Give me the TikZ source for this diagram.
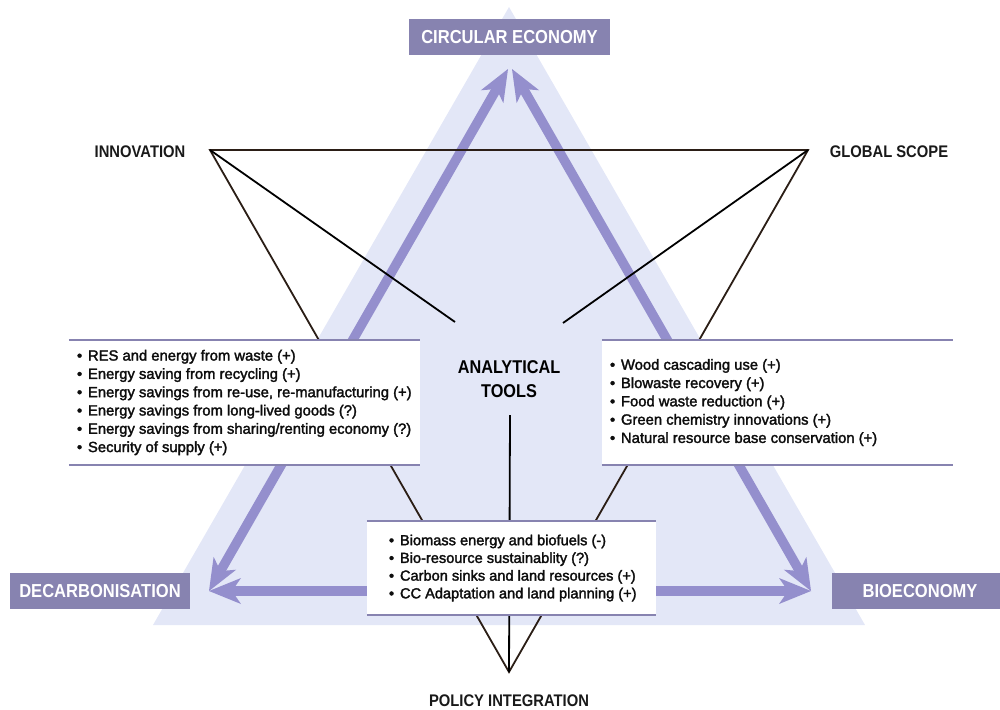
\documentclass[tikz,border=0pt]{standalone}
\usepackage{fontspec}
\setmainfont{Liberation Sans}
\newfontfamily\labelfont[FakeStretch=0.88]{Liberation Sans}
\newfontfamily\bodyfont[FakeBold=2]{Liberation Sans}
\usetikzlibrary{arrows.meta}
\definecolor{bgtri}{HTML}{E3E7F7}
\definecolor{arr}{HTML}{948FCD}
\definecolor{boxc}{HTML}{8783B0}
\definecolor{linec}{HTML}{2B1E16}
\newcommand{\bulletmark}{\makebox[11pt][l]{\textbullet}}
\begin{document}
\begin{tikzpicture}[x=1pt,y=-1pt,
 pillar/.style={fill=boxc, text=white, font=\labelfont\bfseries\fontsize{18.8}{20}\selectfont, inner sep=0pt, minimum height=36pt},
 lab/.style={font=\labelfont\bfseries\fontsize{16.8}{18}\selectfont, text=black!90, inner sep=0pt},
 bigarrow/.style={draw=arr, line width=9.5pt, {Stealth[length=32pt,width=26pt,inset=9pt,line width=0pt]}-{Stealth[length=32pt,width=26pt,inset=9pt,line width=0pt]}},
 edgeline/.style={draw=linec, line width=1.8pt},
 spoke/.style={draw=black, line width=1.8pt},
 panel/.style={fill=white, inner sep=0pt},
 rulebar/.style={draw=boxc, line width=2.2pt},
 bullets/.style={font=\bodyfont\fontsize{14.8}{18.3}\selectfont, align=left, inner sep=0pt, text=black!95}
]
\useasboundingbox (0,0) rectangle (1000,709);
% background triangle
\fill[bgtri] (509,7) -- (865,625) -- (153,625) -- cycle;
% big arrows
\coordinate (tl) at (508,69);
\coordinate (tr) at (512,69);
\coordinate (bl) at (209,591);
\coordinate (br) at (811,591);
\draw[bigarrow] (bl) -- (tl);
\draw[bigarrow] (tr) -- (br);
\draw[bigarrow] (bl) -- (br);
% pillar labels
\node[pillar, minimum width=201pt] (ce) at (509.5,37.5) {CIRCULAR ECONOMY};
\node[pillar, minimum width=180pt] (dec) at (100,591) {DECARBONISATION};
\node[pillar, minimum width=168pt] (bio) at (916,591) {\hspace*{8pt}BIOECONOMY};
% inverted triangle
\coordinate (vI) at (210,150);
\coordinate (vG) at (808,150);
\coordinate (vP) at (509,672);
\draw[edgeline, line join=miter] (vI) -- (vG) -- (vP) -- cycle;
% analytical tools
\node[font=\labelfont\bfseries\fontsize{18.5}{24}\selectfont, align=center, inner sep=0pt] (tools) at (509,379) {ANALYTICAL\\TOOLS};
\coordinate (sI) at (455,322);
\coordinate (sG) at (563,323);
\coordinate (sP) at (510,415);
\draw[spoke] (vI) -- (sI);
\draw[spoke] (vG) -- (sG);
\draw[spoke] (vP) -- (sP);
% labels
\node[lab] (inn) at (140,152) {INNOVATION};
\node[lab] (glob) at (889,152) {GLOBAL SCOPE};
\node[lab] (pol) at (509,701) {POLICY INTEGRATION};
% panels
\node[panel, minimum width=351pt, minimum height=125pt] (lbox) at (244.5,402.5) {};
\node[panel, minimum width=351pt, minimum height=125pt] (rbox) at (777.5,402.5) {};
\node[panel, minimum width=289pt, minimum height=94pt] (cbox) at (511.5,568) {};
\draw[rulebar] (lbox.north west) -- (lbox.north east);
\draw[rulebar] (lbox.south west) -- (lbox.south east);
\draw[rulebar] (rbox.north west) -- (rbox.north east);
\draw[rulebar] (rbox.south west) -- (rbox.south east);
\draw[rulebar] (cbox.north west) -- (cbox.north east);
\draw[rulebar] (cbox.south west) -- (cbox.south east);
\node[bullets, anchor=west] (ltext) at ([xshift=8pt]lbox.west) {%
\bulletmark RES and energy from waste (+)\\
\bulletmark Energy saving from recycling (+)\\
\bulletmark Energy savings from re-use, re-manufacturing (+)\\
\bulletmark Energy savings from long-lived goods (?)\\
\bulletmark Energy savings from sharing/renting economy (?)\\
\bulletmark Security of supply (+)};
\node[bullets, anchor=west] (rtext) at ([xshift=8pt]rbox.west) {%
\bulletmark Wood cascading use (+)\\
\bulletmark Blowaste recovery (+)\\
\bulletmark Food waste reduction (+)\\
\bulletmark Green chemistry innovations (+)\\
\bulletmark Natural resource base conservation (+)};
\node[bullets, anchor=west, font=\bodyfont\fontsize{14.6}{17.7}\selectfont] (ctext) at ([xshift=22pt]cbox.west) {%
\bulletmark Biomass energy and biofuels (-)\\
\bulletmark Bio-resource sustainablity (?)\\
\bulletmark Carbon sinks and land resources (+)\\
\bulletmark CC Adaptation and land planning (+)};
\end{tikzpicture}
\end{document}
